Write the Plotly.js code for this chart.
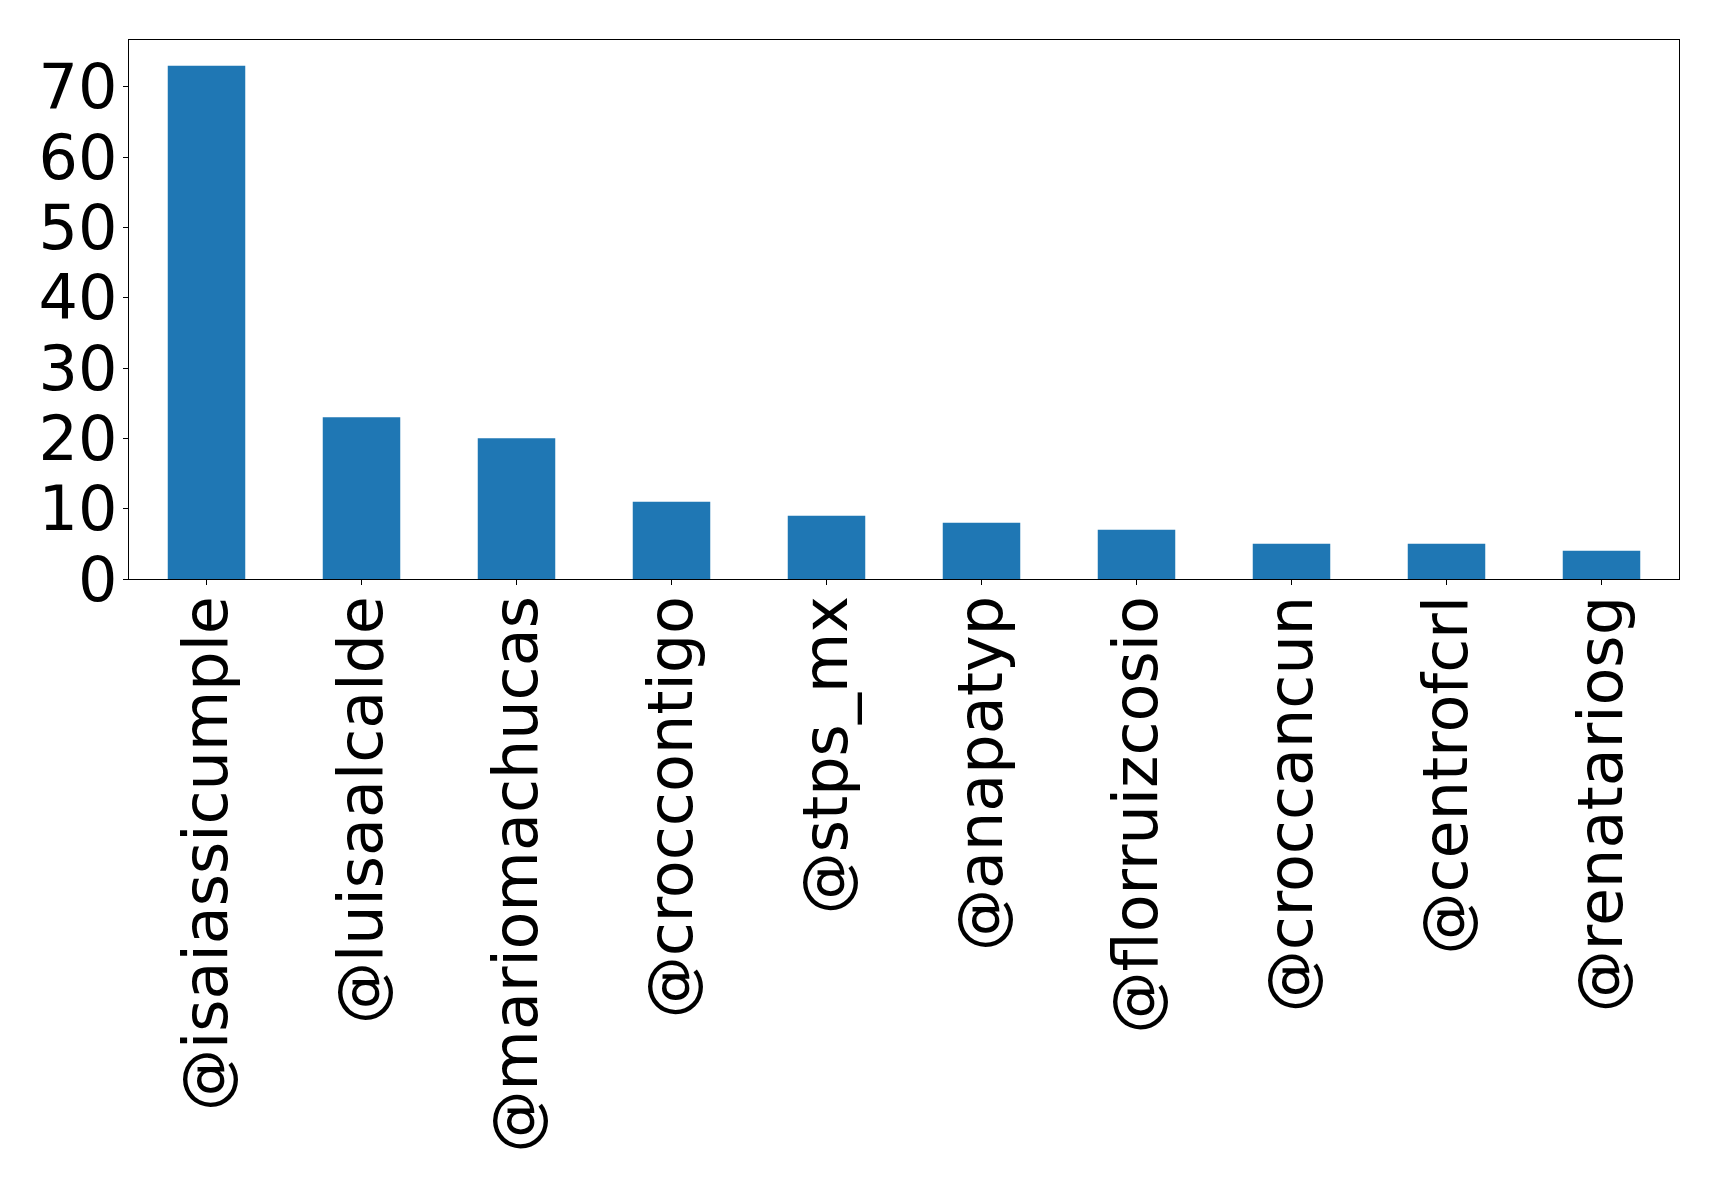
<!DOCTYPE html>
<html>
<head>
<meta charset="utf-8">
<script src="https://cdn.plot.ly/plotly-3.0.1.min.js"></script>
<style>html,body{margin:0;padding:0;background:#fff;}#chart{width:1719px;height:1189px;}</style>
</head>
<body>
<div id="chart"></div>
<script>
const categories = ["@isaiassicumple","@luisaalcalde","@mariomachucas","@croccontigo","@stps_mx","@anapatyp","@florruizcosio","@croccancun","@centrofcrl","@renatariosg"];
const counts = [73, 23, 20, 11, 9, 8, 7, 5, 5, 4];
const yTicks = [0, 10, 20, 30, 40, 50, 60, 70];

const trace = {
  type: "bar",
  x: categories,
  y: counts,
  width: 0.5,
  marker: {color: "#1f77b4", line: {width: 0}},
  hoverinfo: "x+y"
};

const layout = {
  width: 1719,
  height: 1189,
  margin: {l: 129, r: 40, t: 40, b: 610, pad: 0},
  paper_bgcolor: "#ffffff",
  plot_bgcolor: "#ffffff",
  showlegend: false,
  font: {family: "DejaVu Sans, sans-serif", color: "#000000", size: 62},
  xaxis: {
    type: "category",
    range: [-0.5, 9.5],
    tickangle: -90,
    ticks: "outside",
    ticklen: 5,
    tickwidth: 1,
    tickcolor: "#000",
    showline: true,
    linecolor: "#000",
    linewidth: 1.2,
    mirror: true,
    showgrid: false,
    zeroline: false,
    tickfont: {family: "DejaVu Sans, sans-serif", size: 62, color: "#000"},
    ticklabelstandoff: -14
  },
  yaxis: {
    range: [0, 76.65],
    tickvals: yTicks,
    ticktext: yTicks.map(String),
    ticks: "outside",
    ticklen: 5,
    tickwidth: 1,
    tickcolor: "#000",
    showline: true,
    linecolor: "#000",
    linewidth: 1.2,
    mirror: true,
    showgrid: false,
    zeroline: false,
    tickfont: {family: "DejaVu Sans, sans-serif", size: 62, color: "#000"},
    ticklabelstandoff: -7
  }
};

Plotly.newPlot("chart", [trace], layout, {displayModeBar: false, staticPlot: true});
</script>
</body>
</html>
